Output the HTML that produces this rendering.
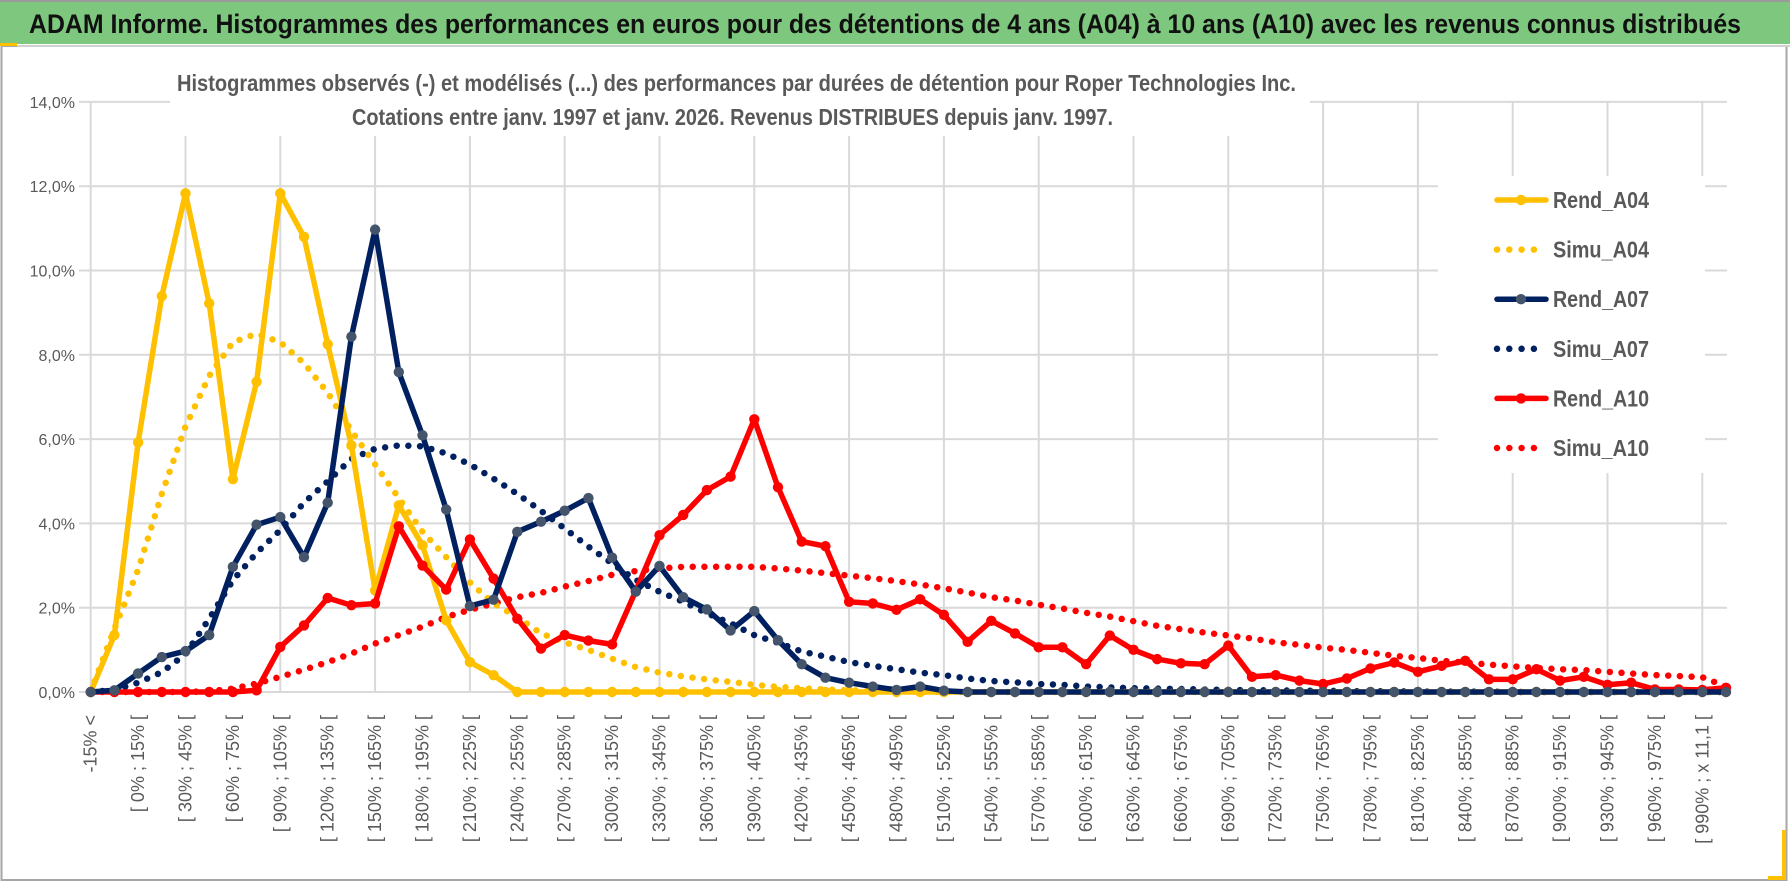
<!DOCTYPE html>
<html><head><meta charset="utf-8"><style>
html,body{margin:0;padding:0;background:#fff;}
svg{display:block;font-family:"Liberation Sans",sans-serif;}
</style></head><body>
<svg id="chart" width="1790" height="888" viewBox="0 0 1790 888" xmlns="http://www.w3.org/2000/svg">
<rect x="0" y="0" width="1790" height="888" fill="#fff"/>
<rect x="1.5" y="46" width="1785" height="834" fill="#fff" stroke="#a6a6a6" stroke-width="2"/>
<rect x="0" y="0" width="1790" height="44" fill="#7ec77e"/>
<line x1="0" y1="1" x2="1790" y2="1" stroke="#9a9a9a" stroke-width="2"/>
<rect x="0" y="43" width="17" height="3" fill="#ffc000"/>
<line x1="17" y1="46" x2="1790" y2="46" stroke="#d0d0d0" stroke-width="2"/>
<text x="29" y="33" font-size="27" font-weight="bold" fill="#111" textLength="1712" lengthAdjust="spacingAndGlyphs">ADAM Informe. Histogrammes des performances en euros pour des détentions de 4 ans (A04) à 10 ans (A10) avec les revenus connus distribués</text>
<path d="M1784 830 V878 H1768" fill="none" stroke="#ffc000" stroke-width="4"/>
<g id="grid"></g>
<rect x="170" y="64" width="1140" height="72" fill="#fff"/>
<text x="177" y="91" font-size="23" font-weight="bold" fill="#595959" textLength="1119" lengthAdjust="spacingAndGlyphs">Histogrammes observés (-) et modélisés (...) des performances par durées de détention pour Roper Technologies Inc.</text>
<text x="352" y="125" font-size="23" font-weight="bold" fill="#595959" textLength="761" lengthAdjust="spacingAndGlyphs">Cotations entre janv. 1997 et janv. 2026. Revenus DISTRIBUES depuis janv. 1997.</text>
<g id="yaxis"></g>
<g id="xaxis"></g>
<g id="series"></g>
<rect x="1438" y="176" width="267" height="297" fill="#fff"/>
<g id="legend"></g>
</svg>
<script>
const rendA04 = [0,1.35,5.92,9.39,11.83,9.22,5.05,7.36,11.83,10.8,8.25,5.85,2.41,4.43,3.48,1.70,0.71,0.40,0,0, 0,0,0,0,0,0,0,0,0,0, 0,0,0,0,0,0,0,0,0,0, 0,0,0,0,0,0,0,0,0,0, 0,0,0,0,0,0,0,0,0,0, 0,0,0,0,0,0,0,0,0,0];
const simuA04 = [0,1.5,2.9,4.7,6.3,7.5,8.3,8.5,8.3,7.8,7.1,6.2,5.4,4.6,3.8,3.2,2.6,2.1,1.78,1.39, 1.18,1.0,0.79,0.59,0.46,0.37,0.3,0.24,0.17,0.12, 0.09,0.06,0.04,0.03,0.02,0.01,0,0,0,0, 0,0,0,0,0,0,0,0,0,0, 0,0,0,0,0,0,0,0,0,0, 0,0,0,0,0,0,0,0,0,0];
const rendA07 = [0,0.04,0.44,0.83,0.97,1.35,2.97,3.97,4.15,3.2,4.49,8.43,10.97,7.59,6.09,4.33,2.04,2.19,3.8,4.04, 4.3,4.6,3.19,2.38,2.99,2.25,1.96,1.46,1.92,1.23, 0.66,0.34,0.22,0.13,0.05,0.13,0.03,0,0,0, 0,0,0,0,0,0,0,0,0,0, 0,0,0,0,0,0,0,0,0,0, 0,0,0,0,0,0,0,0,0,0];
const simuA07 = [0,0.05,0.22,0.47,0.9,1.74,2.65,3.3,3.84,4.49,5.0,5.53,5.77,5.85,5.83,5.66,5.4,5.06,4.7,4.3, 3.88,3.45,3.05,2.66,2.38,2.14,1.87,1.63,1.35,1.17, 0.96,0.84,0.71,0.62,0.54,0.46,0.4,0.32,0.26,0.23, 0.19,0.17,0.13,0.11,0.09,0.08,0.07,0.06,0.05,0.04, 0.04,0.03,0.03,0.02,0.02,0.02,0.01,0.01,0.01,0.01, 0,0,0,0,0,0,0,0,0,0];
const rendA10 = [0,0,0,0,0,0,0,0.04,1.07,1.58,2.23,2.06,2.1,3.93,3.0,2.43,3.62,2.69,1.74,1.03, 1.35,1.22,1.13,2.4,3.72,4.2,4.79,5.11,6.47,4.86, 3.57,3.46,2.14,2.1,1.95,2.2,1.83,1.19,1.69,1.39, 1.06,1.06,0.66,1.34,1.0,0.78,0.68,0.66,1.1,0.36, 0.4,0.27,0.19,0.32,0.56,0.7,0.48,0.62,0.74,0.3, 0.3,0.54,0.27,0.36,0.17,0.22,0.06,0.06,0.05,0.1];
const simuA10 = [0,0,0,0,0,0.02,0.08,0.2,0.36,0.53,0.71,0.91,1.15,1.35,1.55,1.78,1.95,2.1,2.25,2.35, 2.5,2.63,2.78,2.87,2.93,2.97,2.97,2.97,2.97,2.93, 2.88,2.82,2.76,2.7,2.63,2.55,2.46,2.36,2.25,2.17, 2.07,1.98,1.88,1.79,1.68,1.57,1.49,1.41,1.34,1.27, 1.18,1.12,1.05,1.0,0.93,0.86,0.81,0.74,0.7,0.65, 0.61,0.57,0.54,0.52,0.48,0.44,0.4,0.38,0.35,0.13];
const yTicks = [0,2,4,6,8,10,12,14];
const yTickLabels = ["0,0%","2,0%","4,0%","6,0%","8,0%","10,0%","12,0%","14,0%"];
const legendNames = ["Rend_A04","Simu_A04","Rend_A07","Simu_A07","Rend_A10","Simu_A10"];

const NS = "http://www.w3.org/2000/svg";
const N = rendA04.length;
const X0 = 90.7, X1 = 1726, Y0 = 692, YPER = 42.15;
function xs(i){ return X0 + (X1 - X0) * i / (N - 1); }
function ys(v){ return Y0 - v * YPER; }
function mk(tag, attrs, parent){ const e = document.createElementNS(NS, tag); for (const k in attrs) e.setAttribute(k, attrs[k]); parent.appendChild(e); return e; }
function catLabel(i){
  if (i === 0) return "-15% <";
  if (i === 68) return "[ 990% ; x 11,1 [";
  const lo = 15 * (i - 2);
  return "[ " + lo + "% ; " + (lo + 15) + "% [";
}
const grid = document.getElementById('grid');
yTicks.forEach(function(t){
  const l = mk('line', {x1: 79, x2: 1727, y1: ys(t), y2: ys(t), stroke: '#d9d9d9', 'stroke-width': 2}, grid);
  
  
});
for (let i = 0; i < N; i += 4) {
  const l = mk('line', {x1: xs(i), x2: xs(i), y1: ys(14), y2: Y0, stroke: '#d9d9d9', 'stroke-width': 2}, grid);
  
  
}
const yax = document.getElementById('yaxis');
yTicks.forEach(function(t, k){
  const tx = mk('text', {x: 75, y: ys(t) + 6, 'font-size': 16, fill: '#595959', 'text-anchor': 'end'}, yax);
  tx.textContent = yTickLabels[k];
  
  
});
const xax = document.getElementById('xaxis');
for (let i = 0; i < N; i += 2) {
  const x = xs(i) + 6, y = 715;
  const tx = mk('text', {x: x, y: y, 'font-size': 18, fill: '#595959', 'text-anchor': 'end', transform: 'rotate(-90 ' + x + ' ' + y + ')'}, xax);
  tx.textContent = catLabel(i);
  
  
}
const ser = document.getElementById('series');
function pts(arr){ return arr.map(function(v, i){ return xs(i).toFixed(1) + ',' + ys(v).toFixed(1); }).join(' '); }
function simu(arr, color, name){
  const p = mk('polyline', {points: pts(arr), fill: 'none', stroke: color, 'stroke-width': 6.5, 'stroke-linecap': 'round', 'stroke-dasharray': '0 11.7'}, ser);
  
  
}
function rend(arr, color, mcolor, name){
  const g = mk('g', {}, ser);
  
  
  const p = mk('polyline', {points: pts(arr), fill: 'none', stroke: color, 'stroke-width': 5.5, 'stroke-linejoin': 'round'}, g);
  
  
  arr.forEach(function(v, i){
    const c = mk('circle', {cx: xs(i), cy: ys(v), r: 5.2, fill: mcolor}, g);
    
    
  });
}
simu(simuA10, '#ff0000', 'simu-a10');
simu(simuA07, '#002060', 'simu-a07');
simu(simuA04, '#ffc000', 'simu-a04');
rend(rendA04, '#ffc000', '#ffc000', 'rend-a04');
rend(rendA10, '#ff0000', '#ff0000', 'rend-a10');
rend(rendA07, '#002060', '#44546a', 'rend-a07');

const leg = document.getElementById('legend');
const legColors = ['#ffc000','#ffc000','#002060','#002060','#ff0000','#ff0000'];
const legMarker = ['#ffc000','#ffc000','#44546a','#44546a','#ff0000','#ff0000'];
legendNames.forEach(function(nm, k){
  const y = 200 + k * 49.6;
  const g = mk('g', {}, leg);
  
  
  if (k % 2 === 0) {
    mk('line', {x1: 1497, x2: 1546, y1: y, y2: y, stroke: legColors[k], 'stroke-width': 5.5, 'stroke-linecap': 'round'}, g);
    mk('circle', {cx: 1521, cy: y, r: 5.2, fill: legMarker[k]}, g);
  } else {
    mk('line', {x1: 1497, x2: 1546, y1: y, y2: y, stroke: legColors[k], 'stroke-width': 6.5, 'stroke-linecap': 'round', 'stroke-dasharray': '0 12.3'}, g);
  }
  const tx = mk('text', {x: 1553, y: y + 8, 'font-size': 23, 'font-weight': 'bold', fill: '#595959', textLength: 96, lengthAdjust: 'spacingAndGlyphs'}, g);
  tx.textContent = nm;
});
</script>
</body></html>
